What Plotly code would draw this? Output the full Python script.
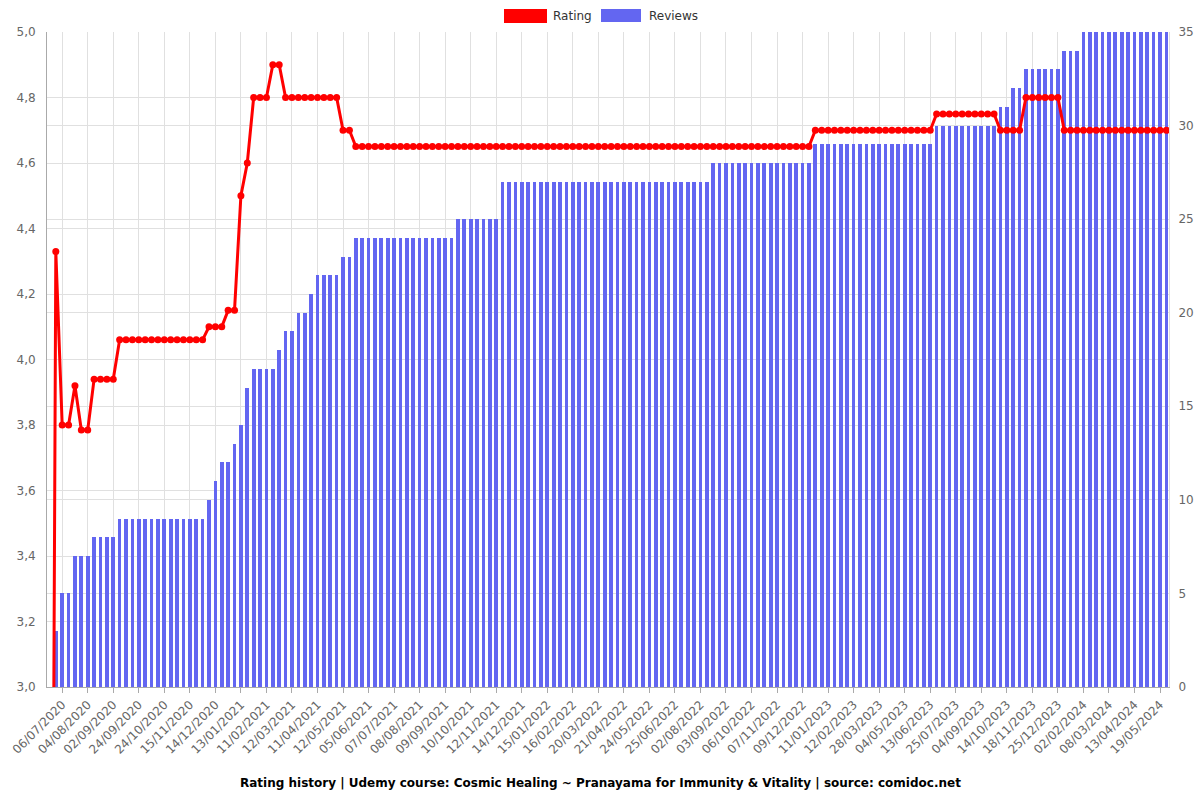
import plotly.graph_objects as go

# ---- data ----
tick_labels = [
    "06/07/2020", "04/08/2020", "02/09/2020", "24/09/2020", "24/10/2020", "15/11/2020",
    "14/12/2020", "13/01/2021", "11/02/2021", "12/03/2021", "11/04/2021", "12/05/2021",
    "05/06/2021", "07/07/2021", "08/08/2021", "09/09/2021", "10/10/2021", "12/11/2021",
    "14/12/2021", "15/01/2022", "16/02/2022", "20/03/2022", "21/04/2022", "24/05/2022",
    "25/06/2022", "02/08/2022", "03/09/2022", "06/10/2022", "07/11/2022", "09/12/2022",
    "11/01/2023", "12/02/2023", "28/03/2023", "04/05/2023", "13/06/2023", "25/07/2023",
    "04/09/2023", "14/10/2023", "18/11/2023", "25/12/2023", "02/02/2024", "08/03/2024",
    "13/04/2024", "19/05/2024",
]

rating = (
    [0.0, 4.33, 3.80, 3.80, 3.92, 3.785, 3.785]
    + [3.94] * 4
    + [4.06] * 14
    + [4.10] * 3
    + [4.15] * 2
    + [4.50, 4.60]
    + [4.80] * 3
    + [4.90] * 2
    + [4.80] * 9
    + [4.70] * 2
    + [4.65] * 72
    + [4.70] * 19
    + [4.75] * 10
    + [4.70] * 4
    + [4.80] * 6
    + [4.70] * 17
)

reviews = (
    [0, 3, 5, 5, 7, 7, 7]
    + [8] * 4
    + [9] * 14
    + [10, 11, 12, 12, 13, 14, 16]
    + [17] * 4
    + [18, 19, 19, 20, 20, 21]
    + [22] * 4
    + [23] * 2
    + [24] * 16
    + [25] * 7
    + [27] * 33
    + [28] * 16
    + [29] * 19
    + [30] * 10
    + [31] * 2
    + [32] * 2
    + [33] * 6
    + [34] * 3
    + [35] * 14
)

n = len(rating)
x = list(range(n))
tick_step = 4
tick_start = 2
tickvals = [tick_start + tick_step * k for k in range(len(tick_labels))]

RED = "#ff0000"
BLUE = "#6366f1"
GRID = "#e0e0e0"
TXT = "#666666"
FONT = "DejaVu Sans, Verdana, sans-serif"

fig = go.Figure()
fig.add_trace(go.Bar(
    x=x, y=reviews, name="Reviews", marker=dict(color=BLUE, line=dict(width=0)),
    width=0.58, yaxis="y", showlegend=False,
))
fig.add_trace(go.Scatter(
    x=x, y=rating, name="Rating", mode="lines+markers",
    line=dict(color=RED, width=3), marker=dict(color=RED, size=7),
    yaxis="y2", showlegend=False,
))

fig.update_layout(
    width=1200, height=800,
    margin=dict(l=47, r=31, t=32, b=113, autoexpand=False),
    paper_bgcolor="white", plot_bgcolor="white",
    separators=",.",
    font=dict(family=FONT, size=12, color=TXT),
    bargap=0,
    xaxis=dict(
        range=[-0.38, n - 1 + 0.41], automargin=False,
        tickmode="array", tickvals=tickvals, ticktext=tick_labels,
        tickangle=-45, showgrid=True, gridcolor=GRID, gridwidth=1,
        ticks="outside", ticklen=5, tickcolor="#aaaaaa",
        showline=True, linecolor="#aaaaaa", zeroline=False,
        tickfont=dict(size=12, color=TXT),
    ),
    yaxis=dict(
        range=[0, 35], dtick=5, side="right", automargin=False,
        showgrid=True, gridcolor=GRID, zeroline=False,
        showline=True, linecolor="#dddddd", ticklabelstandoff=6,
        tickfont=dict(size=12, color=TXT),
    ),
    yaxis2=dict(
        range=[3, 5], dtick=0.2, tickformat=".1f", side="left", overlaying="y",
        automargin=False,
        showgrid=True, gridcolor=GRID, zeroline=False,
        showline=True, linecolor="#aaaaaa", ticklabelstandoff=8,
        tickfont=dict(size=12, color=TXT),
    ),
)

# manual legend (rectangle swatches as in the reference)
fig.add_shape(type="rect", xref="paper", yref="paper",
              x0=(504 - 47) / 1122, x1=(547 - 47) / 1122,
              y0=(687 - 23) / 655, y1=(687 - 9) / 655,
              fillcolor=RED, line=dict(width=0))
fig.add_annotation(text="Rating", xref="paper", yref="paper",
                   x=(551 - 47) / 1122, y=(687 - 16) / 655, xanchor="left", yanchor="middle",
                   showarrow=False, font=dict(size=12, color="#333333", family=FONT))
fig.add_shape(type="rect", xref="paper", yref="paper",
              x0=(601 - 47) / 1122, x1=(641 - 47) / 1122,
              y0=(687 - 22) / 655, y1=(687 - 9) / 655,
              fillcolor=BLUE, line=dict(width=0))
fig.add_annotation(text="Reviews", xref="paper", yref="paper",
                   x=(647 - 47) / 1122, y=(687 - 16) / 655, xanchor="left", yanchor="middle",
                   showarrow=False, font=dict(size=12, color="#333333", family=FONT))

fig.add_annotation(
    text="<b>Rating history | Udemy course: Cosmic Healing ~ Pranayama for Immunity & Vitality | source: comidoc.net</b>",
    xref="paper", yref="paper", x=(600 - 47) / 1122, y=(687 - 783) / 655,
    xanchor="center", yanchor="middle", showarrow=False,
    font=dict(size=12, color="#000000", family=FONT),
)

fig.write_html("out.html")
